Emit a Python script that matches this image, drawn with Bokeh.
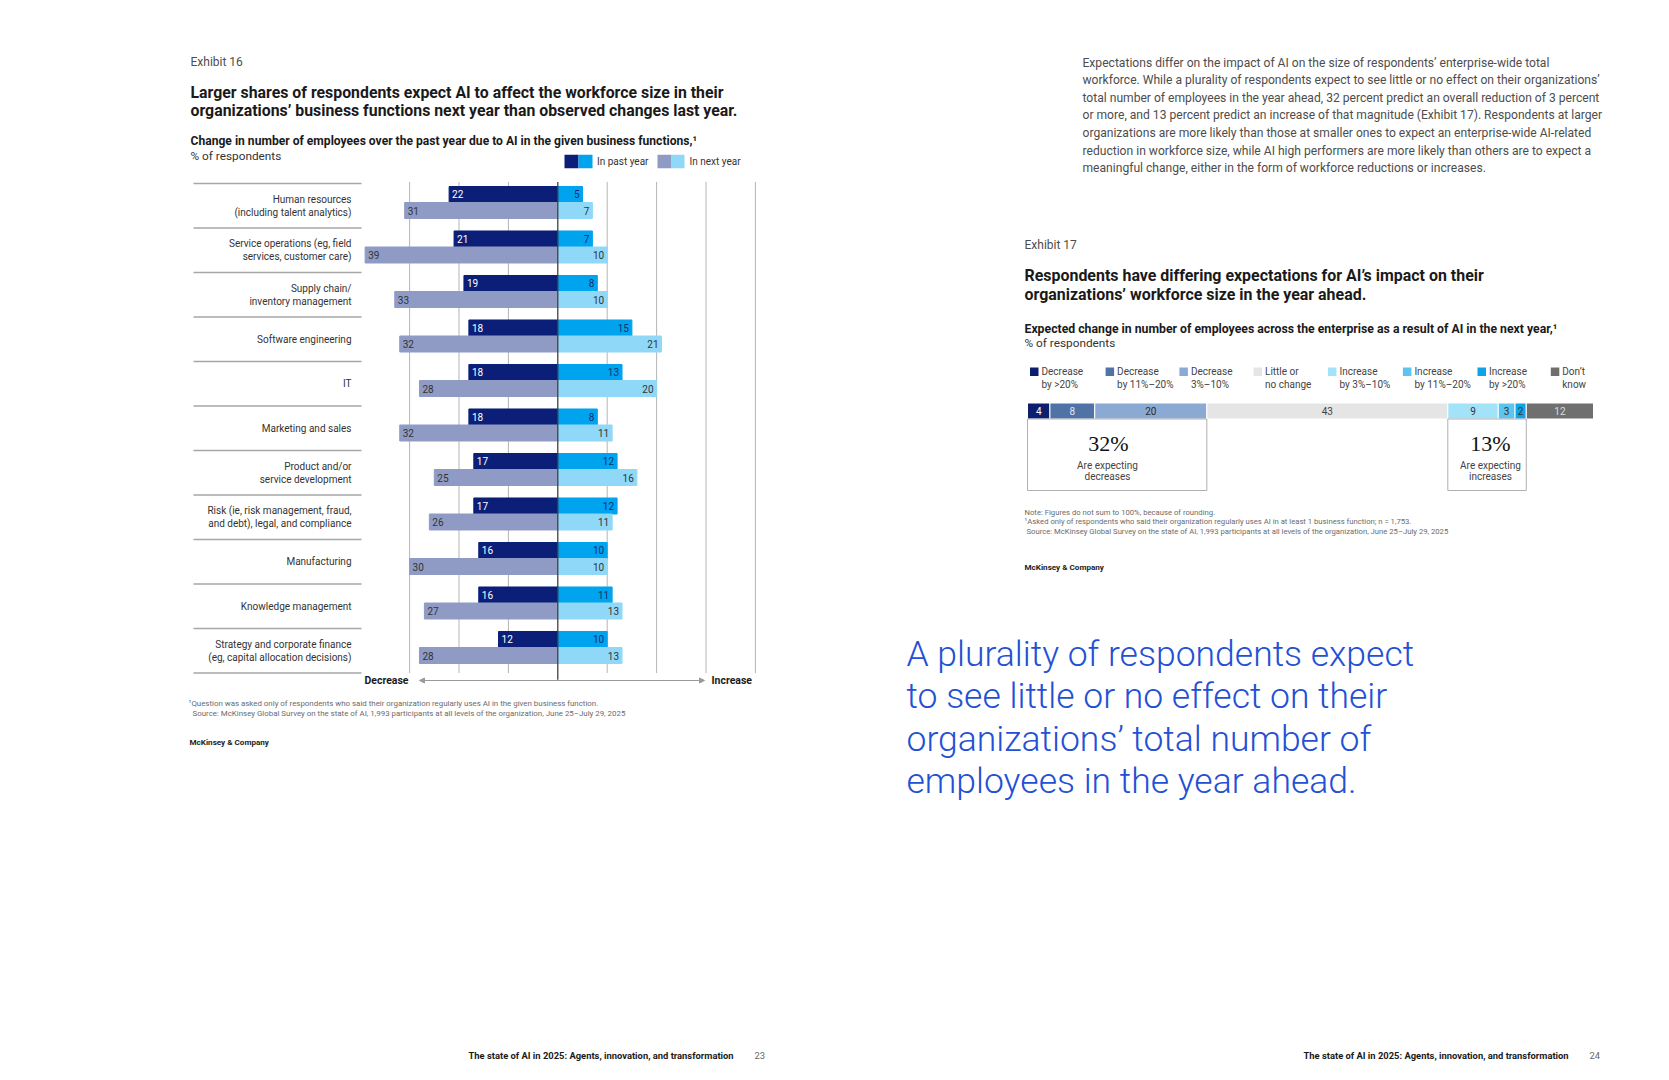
from bokeh.plotting import figure
from bokeh.models import Range1d, Arrow, NormalHead
from bokeh.embed import file_html
from bokeh.resources import INLINE
from bokeh.core.properties import value

# ---------------- data ----------------
categories = [
    "Human resources\n(including talent analytics)",
    "Service operations (eg, field\nservices, customer care)",
    "Supply chain/\ninventory management",
    "Software engineering",
    "IT",
    "Marketing and sales",
    "Product and/or\nservice development",
    "Risk (ie, risk management, fraud,\nand debt), legal, and compliance",
    "Manufacturing",
    "Knowledge management",
    "Strategy and corporate finance\n(eg, capital allocation decisions)",
]
past_decrease = [22, 21, 19, 18, 18, 18, 17, 17, 16, 16, 12]
past_increase = [5, 7, 8, 15, 13, 8, 12, 12, 10, 11, 10]
next_decrease = [31, 39, 33, 32, 28, 32, 25, 26, 30, 27, 28]
next_increase = [7, 10, 10, 21, 20, 11, 16, 11, 10, 13, 13]
grid_ticks = [-30, -20, -10, 10, 20, 30, 40]

e17_labels = ["Decrease\nby >20%", "Decrease\nby 11%–20%", "Decrease\n3%–10%", "Little or\nno change",
              "Increase\nby 3%–10%", "Increase\nby 11%–20%", "Increase\nby >20%", "Don’t\nknow"]
e17_values = [4, 8, 20, 43, 9, 3, 2, 12]
e17_decrease_total = 32
e17_increase_total = 13

# ---------------- styles ----------------
FONT = "Roboto"
C_PAST_DEC, C_PAST_INC = "#0b1f78", "#00a3ee"
C_NEXT_DEC, C_NEXT_INC = "#8f9bc5", "#8fd8f8"
E17_COLORS = ["#0b1f6e", "#4f73a6", "#8aaad3", "#e5e5e5", "#a2e3fa", "#5cc5ef", "#10a3e6", "#6f6f6f"]
E17_TEXT = ["#ffffff", "#e4e8f2", "#2b2b2b", "#444444", "#333333", "#333333", "#333333", "#dddddd"]

W, H = 1653, 1064
S0 = 0                               # screen position of the canvas origin
ZERO_X, UNIT = 557.3, 4.94           # exhibit 16 scale
ROW_TOP, ROW_H = 183.0, 44.5
E17_X0, E17_UNIT = 1027.0, 5.604     # exhibit 17 scale
E17_YC, E17_BH = 410.5, 16.0

p = figure(width=W, height=H, output_backend="svg", toolbar_location=None,
           x_axis_location=None, y_axis_location=None, min_border=0,
           outline_line_color=None,
           x_range=Range1d((S0 - ZERO_X) / UNIT, (S0 + W - ZERO_X) / UNIT),
           y_range=Range1d((S0 + H - ROW_TOP) / ROW_H, (S0 - ROW_TOP) / ROW_H))
p.grid.visible = False
p.extra_x_ranges = {"px": Range1d(S0, S0 + W),
                    "e17": Range1d((S0 - E17_X0) / E17_UNIT, (S0 + W - E17_X0) / E17_UNIT)}
p.extra_y_ranges = {"px": Range1d(S0 + H, S0),
                    "e17": Range1d((E17_YC - S0 - H) / E17_BH, (E17_YC - S0) / E17_BH)}


def txt(x, y, s, size, color="#333333", style="normal", align="left", baseline="middle", font=FONT, lh=1.2):
    p.text(x=[x], y=[y], text=[s], x_range_name="px", y_range_name="px",
           text_font=value(font), text_font_size=f"{size}px", text_color=color,
           text_font_style=style, text_align=align, text_baseline=baseline, text_line_height=lh)


# ================= Exhibit 16 =================
txt(190, 61.7, "Exhibit 16", 12, "#4d4d4d")
txt(190, 91.7, "Larger shares of respondents expect AI to affect the workforce size in their", 15.85, "#1a1a1a", "bold")
txt(190, 109.6, "organizations’ business functions next year than observed changes last year.", 15.85, "#1a1a1a", "bold")
txt(190, 140, "Change in number of employees over the past year due to AI in the given business functions,¹", 12.1, "#1a1a1a", "bold")
txt(190, 155, "% of respondents", 11.8, "#333333")

# legend
p.quad(left=[564, 578, 657, 670.5], right=[578, 592, 670.5, 684], top=154.3, bottom=167.7,
       fill_color=[C_PAST_DEC, C_PAST_INC, C_NEXT_DEC, C_NEXT_INC], line_color=None,
       x_range_name="px", y_range_name="px")
txt(596.5, 161, "In past year", 10, "#333333")
txt(689, 161, "In next year", 10, "#333333")

n = len(categories)
rows = list(range(n))
y_past = [i + 0.247 for i in rows]
y_next = [i + 0.607 for i in rows]
bh = 16 / ROW_H

# grid lines
p.segment(x0=grid_ticks, x1=grid_ticks, y0=-0.035, y1=n, line_color="#b5b5b5", line_width=1)
p.segment(x0=[0], x1=[0], y0=-0.035, y1=n + 0.15, line_color="#333333", line_width=1.2, level="overlay")

# row separators in the label column
p.segment(x0=193, x1=361, y0=list(range(n + 1)), y1=list(range(n + 1)),
          line_color="#a6a6a6", line_width=1.5, x_range_name="px")

# bars
p.hbar(y=y_past, left=[-v for v in past_decrease], right=0, height=bh, color=C_PAST_DEC)
p.hbar(y=y_past, left=0, right=past_increase, height=bh, color=C_PAST_INC)
p.hbar(y=y_next, left=[-v for v in next_decrease], right=0, height=bh, color=C_NEXT_DEC)
p.hbar(y=y_next, left=0, right=next_increase, height=bh, color=C_NEXT_INC)

lab = dict(text_font=value(FONT), text_font_size="10px", text_baseline="middle")
p.text(x=[-v for v in past_decrease], y=y_past, text=[str(v) for v in past_decrease],
       x_offset=3, text_align="left", text_color="#ffffff", **lab)
p.text(x=[-v for v in next_decrease], y=y_next, text=[str(v) for v in next_decrease],
       x_offset=3, text_align="left", text_color="#333333", **lab)
p.text(x=past_increase, y=y_past, text=[str(v) for v in past_increase],
       x_offset=-3, text_align="right", text_color="#12306e", **lab)
p.text(x=next_increase, y=y_next, text=[str(v) for v in next_increase],
       x_offset=-3, text_align="right", text_color="#333333", **lab)

# category labels
p.text(x=351, y=[i + 0.5 for i in rows], text=categories, x_range_name="px",
       text_font=value(FONT), text_font_size="10px", text_color="#333333",
       text_align="right", text_baseline="middle", text_line_height=1.2)

# decrease / increase arrow
head = dict(size=5, fill_color="#9a9a9a", line_color="#9a9a9a")
p.add_layout(Arrow(start=NormalHead(**head), end=NormalHead(**head),
                   x_start=419, y_start=680, x_end=704, y_end=680,
                   line_color="#9a9a9a", line_width=1, x_range_name="px", y_range_name="px"))
txt(408, 680, "Decrease", 10.5, "#1a1a1a", "bold", align="right")
txt(711, 680, "Increase", 10.5, "#1a1a1a", "bold")

txt(188, 703.3, "¹Question was asked only of respondents who said their organization regularly uses AI in the given business function.", 7.9, "#6b6b6b")
txt(192, 713.3, "Source: McKinsey Global Survey on the state of AI, 1,993 participants at all levels of the organization, June 25–July 29, 2025", 7.9, "#6b6b6b")
txt(189, 741, "McKinsey & Company", 8.1, "#222222", "bold")

# ================= Right page text =================
para = [
    "Expectations differ on the impact of AI on the size of respondents’ enterprise-wide total",
    "workforce. While a plurality of respondents expect to see little or no effect on their organizations’",
    "total number of employees in the year ahead, 32 percent predict an overall reduction of 3 percent",
    "or more, and 13 percent predict an increase of that magnitude (Exhibit 17). Respondents at larger",
    "organizations are more likely than those at smaller ones to expect an enterprise-wide AI-related",
    "reduction in workforce size, while AI high performers are more likely than others are to expect a",
    "meaningful change, either in the form of workforce reductions or increases.",
]
for k, line in enumerate(para):
    txt(1082, 62.0 + 17.65 * k, line, 12.1, "#4d4d4d")

# ================= Exhibit 17 =================
txt(1024, 244, "Exhibit 17", 12, "#4d4d4d")
txt(1024, 275, "Respondents have differing expectations for AI’s impact on their", 15.95, "#1a1a1a", "bold")
txt(1024, 293.6, "organizations’ workforce size in the year ahead.", 15.95, "#1a1a1a", "bold")
txt(1024, 328.3, "Expected change in number of employees across the enterprise as a result of AI in the next year,¹", 12.25, "#1a1a1a", "bold")
txt(1024, 342.3, "% of respondents", 11.8, "#333333")

leg_sq_x = [1029.5, 1105.1, 1178.9, 1253.0, 1327.5, 1402.4, 1477.0, 1550.3]
p.quad(left=leg_sq_x, right=[x + 8.5 for x in leg_sq_x], top=367, bottom=375.5,
       fill_color=E17_COLORS, line_color=None, x_range_name="px", y_range_name="px")
for x, s in zip(leg_sq_x, e17_labels):
    txt(x + 11.5, 365.5, s, 10, "#444444", baseline="top", lh=1.15)

# stacked bar
rights, acc = [], 0
for v in e17_values:
    acc += v
    rights.append(acc)
lefts = [r - v for r, v in zip(rights, e17_values)]
p.hbar(y=0, left=lefts, right=rights, height=1, fill_color=E17_COLORS, line_color="#ffffff",
       line_width=1, x_range_name="e17", y_range_name="e17")
p.text(x=[(l + r) / 2 for l, r in zip(lefts, rights)], y=0, text=[str(v) for v in e17_values],
       text_color=E17_TEXT, text_font=value(FONT), text_font_size="10px", text_align="center",
       text_baseline="middle", x_range_name="e17", y_range_name="e17")

box_bottom = (E17_YC - 490) / E17_BH
p.quad(left=[0, rights[3]], right=[rights[2], rights[6]], top=-0.5, bottom=box_bottom,
       fill_color=None, line_color="#b0b0b0", line_width=1, x_range_name="e17", y_range_name="e17")

txt(1108, 443.3, f"{e17_decrease_total}%", 22, "#111111", font="Liberation Serif", align="center")
txt(1107, 465, "Are expecting", 10, "#444444", align="center")
txt(1107, 475.7, "decreases", 10, "#444444", align="center")
txt(1490, 443.3, f"{e17_increase_total}%", 22, "#111111", font="Liberation Serif", align="center")
txt(1490, 465, "Are expecting", 10, "#444444", align="center")
txt(1490, 475.7, "increases", 10, "#444444", align="center")

txt(1024, 511.7, "Note: Figures do not sum to 100%, because of rounding.", 7.7, "#6b6b6b")
txt(1024, 520.7, "¹Asked only of respondents who said their organization regularly uses AI in at least 1 business function; n = 1,753.", 7.7, "#6b6b6b")
txt(1026, 530.5, "Source: McKinsey Global Survey on the state of AI, 1,993 participants at all levels of the organization, June 25–July 29, 2025", 7.7, "#6b6b6b")
txt(1024, 566.7, "McKinsey & Company", 8.1, "#222222", "bold")

# pull quote
quote = ["A plurality of respondents expect", "to see little or no effect on their",
         "organizations’ total number of", "employees in the year ahead."]
for k, line in enumerate(quote):
    txt(906, 653.3 + 42.5 * k, line, 35.5, "#2350d4", baseline="alphabetic", font="Roboto Light")

# footers
txt(468, 1055, "The state of AI in 2025: Agents, innovation, and transformation", 9.4, "#1a1a1a", "bold")
txt(754, 1055, "23", 9.4, "#666666")
txt(1303, 1055, "The state of AI in 2025: Agents, innovation, and transformation", 9.4, "#1a1a1a", "bold")
txt(1589, 1055, "24", 9.4, "#666666")

open("out.html", "w").write(file_html(p, INLINE))
